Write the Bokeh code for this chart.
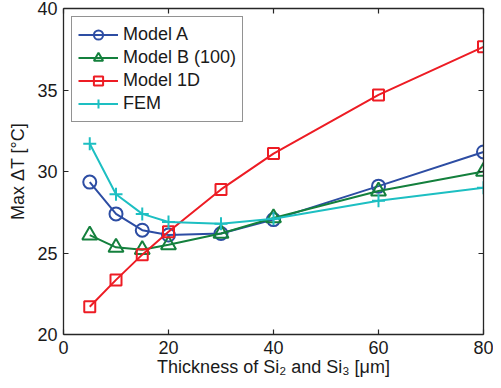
from bokeh.plotting import figure
from bokeh.models import Range1d, LinearAxis, FixedTicker, Legend, LegendItem
from bokeh.embed import file_html
from bokeh.resources import INLINE

# ---- data ----
thickness = [5, 10, 15, 20, 30, 40, 60, 80]
model_a = [29.35, 27.4, 26.4, 26.1, 26.2, 27.05, 29.1, 31.2]
model_b = [26.1, 25.35, 25.2, 25.5, 26.2, 27.15, 28.8, 30.0]
model_1d = [21.7, 23.35, 24.9, 26.3, 28.9, 31.1, 34.7, 37.65]
fem = [31.7, 28.6, 27.4, 26.9, 26.8, 27.1, 28.2, 29.0]

x_ticks = [0, 20, 40, 60, 80]
y_ticks = [20, 25, 30, 35, 40]

series = [
    ("Model A", model_a, "#2d4da3", "circle", 13),
    ("Model B (100)", model_b, "#14803d", "triangle", 15),
    ("Model 1D", model_1d, "#ed1c24", "square", 11),
    ("FEM", fem, "#1dbfc2", "cross", 13),
]

FONT = "Liberation Sans"
TXT = "#1a1a1a"

p = figure(width=493, height=380, output_backend="svg", toolbar_location=None,
           x_range=Range1d(0, 80), y_range=Range1d(20, 40),
           min_border_left=63, min_border_right=10, min_border_top=8,
           min_border_bottom=46, x_axis_location=None, y_axis_location=None)
p.grid.visible = False
p.outline_line_color = None
p.background_fill_color = "white"
p.border_fill_color = "white"


def style_axis(ax, ticks, labels=True):
    ax.ticker = FixedTicker(ticks=ticks)
    ax.axis_line_color = "#262626"
    ax.axis_line_width = 1.3
    ax.major_tick_line_color = "#262626"
    ax.major_tick_line_width = 1.2
    ax.major_tick_in = 5
    ax.major_tick_out = 0
    ax.minor_tick_line_color = None
    ax.major_label_text_font = FONT
    ax.major_label_text_color = TXT
    ax.axis_label_text_font = FONT
    ax.axis_label_text_color = TXT
    ax.axis_label_text_font_style = "normal"
    ax.axis_label_text_font_size = "18px"
    if labels:
        ax.major_label_text_font_size = "18px"
    else:
        ax.major_label_text_font_size = "0px"
        ax.major_label_standoff = 0
        ax.major_label_overrides = {t: "" for t in ticks}


bottom = LinearAxis(axis_label="Thickness of Si\u2082 and Si\u2083 [\u03bcm]")
style_axis(bottom, x_ticks)
bottom.major_label_standoff = 6
bottom.axis_label_standoff = 0
p.add_layout(bottom, "below")

left = LinearAxis(axis_label="Max \u0394T [\u00b0C]")
style_axis(left, y_ticks)
left.major_label_standoff = 6
left.axis_label_standoff = 6
p.add_layout(left, "left")

top = LinearAxis()
style_axis(top, x_ticks, labels=False)
p.add_layout(top, "above")

right = LinearAxis()
style_axis(right, y_ticks, labels=False)
p.add_layout(right, "right")

items = []
for name, vals, color, marker, size in series:
    ln = p.line(thickness, vals, line_color=color, line_width=2)
    sc = p.scatter(thickness, vals, marker=marker, size=size, line_color=color,
                   line_width=2, fill_color=None)
    items.append(LegendItem(label=name, renderers=[ln, sc]))

legend = Legend(items=items, location="top_left")
legend.margin = 8
legend.padding = 6
legend.spacing = 0
legend.glyph_width = 40
legend.glyph_height = 23
legend.label_height = 23
legend.label_standoff = 5
legend.label_text_font = FONT
legend.label_text_font_size = "18px"
legend.label_text_color = TXT
legend.border_line_color = "#262626"
legend.border_line_width = 1
legend.background_fill_color = "white"
legend.background_fill_alpha = 1
p.add_layout(legend)

open("out.html", "w").write(file_html(p, INLINE))
